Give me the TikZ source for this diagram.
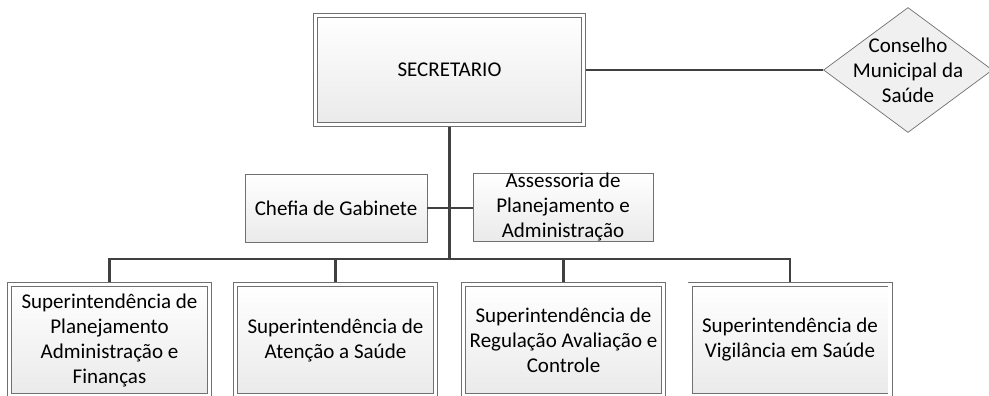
\documentclass[tikz,border=0pt]{standalone}
\usepackage{fontspec}
\setmainfont{Carlito}
\usetikzlibrary{shapes.geometric}
\definecolor{boxline}{HTML}{707070}
\definecolor{boxfill}{HTML}{EAEAEA}
\definecolor{connline}{HTML}{404040}
\tikzset{
  unit/.style={
    draw=boxline, line width=0.7pt,
    top color=white, bottom color=boxfill,
    align=center, inner sep=0pt
  },
  dunit/.style={
    unit,
    double=white, double distance=3.6pt
  },
  council/.style={
    diamond, draw=boxline, line width=0.7pt, fill=boxfill!70,
    align=center, inner sep=-24pt,
    minimum width=169pt, minimum height=125pt
  },
  conn/.style={
    draw=connline, line width=2.6pt
  }
}

\begin{document}
\begin{tikzpicture}[x=1pt,y=-1pt,font=\fontsize{21}{25}\selectfont]
  \useasboundingbox (0,0) rectangle (989,396);

  % Top
  \node[dunit, minimum width=268pt, minimum height=109pt] (sec) at (449.5,70) {SECRETARIO};
  \node[council] (cms) at (908,70) {Conselho\\Municipal da\\Saúde};

  % Staff
  \node[unit, minimum width=182pt, minimum height=68pt] (gab) at (336,208) {Chefia de Gabinete};
  \node[unit, minimum width=180pt, minimum height=66pt] (apa) at (563,207) {Assessoria de\\Planejamento e\\Administração};

  % Superintendencies
  \node[dunit, minimum width=200pt, minimum height=111pt] (sup1) at (109.5,340)
    {Superintendência de\\Planejamento\\Administração e\\Finanças};
  \node[dunit, minimum width=200pt, minimum height=111pt] (sup2) at (335.5,340)
    {Superintendência de\\Atenção a Saúde};
  \node[dunit, minimum width=200pt, minimum height=111pt] (sup3) at (563.5,340)
    {Superintendência de\\Regulação Avaliação e\\Controle};
  \node[dunit, minimum width=200pt, minimum height=111pt] (sup4) at (790,340)
    {Superintendência de\\Vigilância em Saúde};

  \coordinate (bus) at (449.5,259);

  % Connectors
  \draw[conn, shorten <=2.4pt] (sec.east) -- (cms.west);
  \draw[conn, shorten <=2.4pt] (sec.south) -- (bus);
  \draw[conn] (gab.east) -- (apa.west |- gab.east);
  \draw[conn, shorten <=2.4pt, shorten >=2.4pt] (sup1.north) |- (sup4.north |- bus) -- (sup4.north);
  \foreach \s in {sup2,sup3}
    \draw[conn, shorten <=2.4pt] (\s.north) -- (\s.north |- bus);
\end{tikzpicture}
\end{document}
